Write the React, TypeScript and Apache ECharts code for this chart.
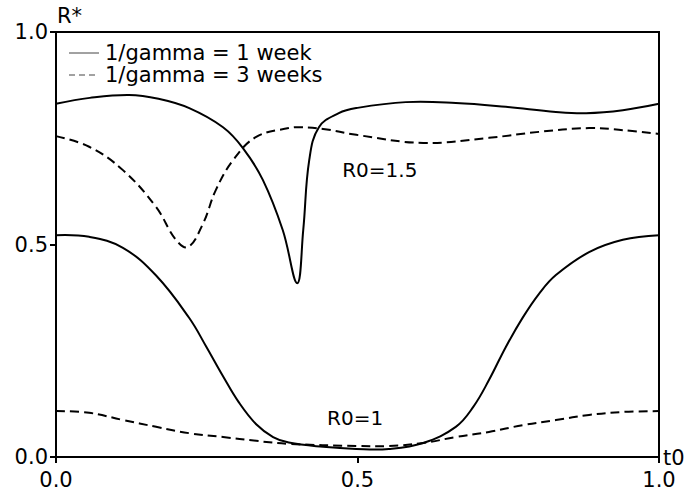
import React, { useEffect, useRef } from "react";
import * as echarts from "echarts";

// t0 (fraction of year) vs R*
const solidR15: [number, number][] = [
  [0, 0.831], [0.056, 0.845], [0.121, 0.852], [0.17, 0.843], [0.221, 0.821],
  [0.277, 0.776], [0.31, 0.727], [0.343, 0.652], [0.376, 0.534], [0.4, 0.409],
  [0.41, 0.534], [0.42, 0.699], [0.436, 0.776], [0.469, 0.809], [0.498, 0.821],
  [0.58, 0.835], [0.663, 0.833], [0.746, 0.824], [0.829, 0.812], [0.879, 0.809],
  [0.94, 0.816], [1.0, 0.831],
];
const dashedR15: [number, number][] = [
  [0, 0.755], [0.055, 0.73], [0.111, 0.675], [0.166, 0.588], [0.199, 0.511],
  [0.219, 0.494], [0.244, 0.55], [0.265, 0.628], [0.294, 0.699], [0.332, 0.753],
  [0.386, 0.774], [0.403, 0.776], [0.443, 0.772], [0.498, 0.758], [0.609, 0.739],
  [0.718, 0.751], [0.801, 0.765], [0.884, 0.774], [0.94, 0.769], [1.0, 0.76],
];
const solidR10: [number, number][] = [
  [0, 0.522], [0.055, 0.518], [0.111, 0.492], [0.166, 0.427], [0.221, 0.327],
  [0.249, 0.26], [0.277, 0.19], [0.303, 0.129], [0.332, 0.077], [0.36, 0.047],
  [0.386, 0.034], [0.443, 0.024], [0.498, 0.019], [0.552, 0.019], [0.609, 0.033],
  [0.663, 0.071], [0.692, 0.118], [0.718, 0.181], [0.746, 0.259], [0.774, 0.328],
  [0.801, 0.384], [0.829, 0.428], [0.884, 0.482], [0.94, 0.511], [1.0, 0.522],
];
const dashedR10: [number, number][] = [
  [0, 0.108], [0.055, 0.104], [0.111, 0.087], [0.166, 0.071], [0.221, 0.056],
  [0.277, 0.047], [0.332, 0.038], [0.386, 0.031], [0.498, 0.026], [0.552, 0.026],
  [0.609, 0.033], [0.663, 0.047], [0.718, 0.059], [0.774, 0.075], [0.829, 0.087],
  [0.884, 0.099], [0.94, 0.106], [1.0, 0.108],
];

const legendNames = ["1/gamma = 1 week", "1/gamma = 3 weeks"];
const regionLabels = ["R0=1.5", "R0=1"];
const regionLabelAt: [number, number][] = [[0.537, 0.675], [0.496, 0.092]];
const yAxisTitle = "R*";
const xAxisTitle = "t0";

const FONT = "'DejaVu Sans', 'Liberation Sans', Arial, sans-serif";
const FS = 21;

export default function App() {
  const ref = useRef<HTMLDivElement>(null);
  useEffect(() => {
    if (!ref.current) return;
    document.body.style.margin = "0";
    const chart = echarts.init(ref.current, undefined, { renderer: "svg" });
    const curveSeries = (data: [number, number][], dashed: boolean) => ({
      type: "custom",
      coordinateSystem: "cartesian2d",
      data,
      encode: { x: 0, y: 1 },
      silent: true,
      renderItem: (params: any, api: any) => {
        if (params.dataIndex !== 0) return null;
        const points = data.map((d) => api.coord(d));
        return {
          type: "polyline",
          shape: { points, smooth: 0.4 },
          style: {
            stroke: "#000",
            lineWidth: 2,
            fill: null,
            lineDash: dashed ? [9, 5] : null,
          },
        };
      },
    });
    chart.setOption({
      animation: false,
      textStyle: { fontFamily: FONT },
      grid: {
        left: 56, right: 30, top: 32, bottom: 41,
        show: true, borderColor: "#000", borderWidth: 2,
      },
      xAxis: {
        type: "value", min: 0, max: 1, interval: 0.5,
        axisLine: { lineStyle: { color: "#000", width: 2 } },
        axisTick: { show: true, length: 6, lineStyle: { color: "#000", width: 2 } },
        axisLabel: { fontSize: FS, color: "#000", margin: 12, fontFamily: FONT, formatter: (v: number) => v.toFixed(1) },
        splitLine: { show: false },
      },
      yAxis: {
        type: "value", min: 0, max: 1, interval: 0.5,
        axisLine: { show: true, lineStyle: { color: "#000", width: 2 } },
        axisTick: { show: true, length: 6, lineStyle: { color: "#000", width: 2 } },
        axisLabel: { fontSize: FS, color: "#000", margin: 8, fontFamily: FONT, formatter: (v: number) => v.toFixed(1) },
        splitLine: { show: false },
      },
      series: [
        curveSeries(solidR15, false),
        curveSeries(dashedR15, true),
        curveSeries(solidR10, false),
        curveSeries(dashedR10, true),
      ],
    });
    const labelGraphics = regionLabels.map((txt, i) => {
      const p = chart.convertToPixel({ gridIndex: 0 }, regionLabelAt[i]) as number[];
      return {
        type: "text", x: p[0], y: p[1],
        style: { text: txt, fontSize: 20, fontFamily: FONT, fill: "#000", align: "center", verticalAlign: "middle" },
      };
    });
    chart.setOption({
      graphic: [
        { type: "line", shape: { x1: 69, y1: 53, x2: 99, y2: 53 }, style: { stroke: "#444", lineWidth: 1 } },
        { type: "text", x: 105, y: 53, style: { text: legendNames[0], fontSize: FS, fontFamily: FONT, fill: "#000", verticalAlign: "middle" } },
        { type: "line", shape: { x1: 69, y1: 75, x2: 99, y2: 75 }, style: { stroke: "#444", lineWidth: 1, lineDash: [6, 4] } },
        { type: "text", x: 105, y: 75, style: { text: legendNames[1], fontSize: FS, fontFamily: FONT, fill: "#000", verticalAlign: "middle" } },
        { type: "text", x: 57, y: 16, style: { text: yAxisTitle, fontSize: FS, fontFamily: FONT, fill: "#000", verticalAlign: "middle" } },
        { type: "text", x: 663, y: 458, style: { text: xAxisTitle, fontSize: FS, fontFamily: FONT, fill: "#000", verticalAlign: "middle" } },
        ...labelGraphics,
      ],
    });
    return () => chart.dispose();
  }, []);
  return <div ref={ref} style={{ width: 689, height: 498 }} />;
}
